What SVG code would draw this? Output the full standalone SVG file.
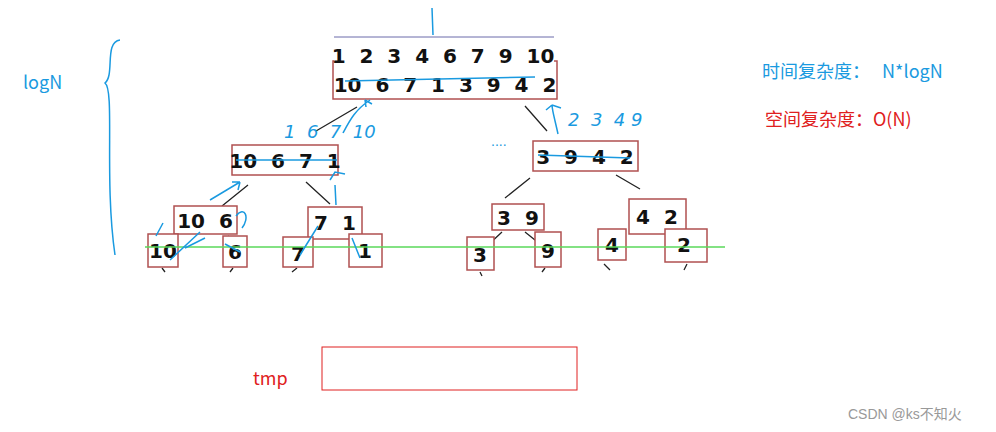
<svg xmlns="http://www.w3.org/2000/svg" width="996" height="432" viewBox="0 0 996 432" xml:space="preserve">
<style>
.b{fill:#fff;stroke:#b05050;stroke-width:1.5}
.n{font-family:"DejaVu Sans",sans-serif;font-weight:bold;font-size:20px;fill:#111;text-anchor:middle;white-space:pre}
.k{stroke:#222;stroke-width:1.3;fill:none}
.u{stroke:#1a9ae0;stroke-width:1.5;fill:none}
.h{font-family:"DejaVu Sans",sans-serif;font-style:italic;font-size:18px;fill:#1a9ae0;white-space:pre}
.t{font-family:"Noto Sans CJK SC","Liberation Sans",sans-serif;font-size:18px;white-space:pre}
</style>
<rect width="996" height="432" fill="#fff"/>
<g id="connectors">
<path class="k" d="M357 107L316 131M525 106L547 131M248 185L222 206M306 182L330 204M530 178L505 198M616 175L640 189M172 236L160 254M228 236L246 252M300 240L290 256M360 240L370 250M502 232L487 246M525 232L545 248M617 235L610 248M686 235L700 248"/>
<path class="k" d="M162 268L165 272M233 268L230 272M297 268L292 272M480 272L482 276M545 268L542 272M604 264L610 270M687 264L684 270"/>
</g>
<g id="top"><rect class="b" x="333" y="61" width="224" height="38"/><text class="n" x="445" y="92" font-size="19">10  6  7  1  3  9  4  2</text>
<rect x="334" y="38" width="220" height="30" fill="#fff"/><text class="n" x="443" y="63">1  2  3  4  6  7  9  10</text>
<line x1="334" y1="37" x2="554" y2="37" stroke="#6a6aaa"/></g>
<g id="n10671"><rect class="b" x="232" y="145" width="106" height="30"/><text class="n" x="285" y="168">10  6  7  1</text></g>
<g id="n3942"><rect class="b" x="533" y="141" width="105" height="30"/><text class="n" x="585" y="164">3  9  4  2</text></g>
<g id="n106"><rect class="b" x="174" y="206" width="63" height="28"/><text class="n" x="205" y="228">10  6</text></g>
<g id="n71"><rect class="b" x="308" y="207" width="54" height="32"/><text class="n" x="335" y="230">7  1</text></g>
<g id="n39"><rect class="b" x="492" y="204" width="52" height="26"/><text class="n" x="518" y="225">3  9</text></g>
<g id="n42"><rect class="b" x="629" y="199" width="57" height="35"/><text class="n" x="657" y="224">4  2</text></g>
<g id="l10"><rect class="b" x="148" y="234" width="30" height="33"/><text class="n" x="163" y="258">10</text></g>
<g id="l6"><rect class="b" x="223" y="236" width="24" height="31"/><text class="n" x="235" y="259">6</text></g>
<g id="l7"><rect class="b" x="283" y="237" width="30" height="30"/><text class="n" x="298" y="261">7</text></g>
<g id="l1"><rect class="b" x="349" y="234" width="33" height="33"/><text class="n" x="365" y="258">1</text></g>
<g id="l3"><rect class="b" x="467" y="237" width="27" height="33"/><text class="n" x="480" y="262">3</text></g>
<g id="l9"><rect class="b" x="535" y="232" width="26" height="35"/><text class="n" x="548" y="258">9</text></g>
<g id="l4"><rect class="b" x="598" y="229" width="28" height="31"/><text class="n" x="612" y="252">4</text></g>
<g id="l2"><rect class="b" x="665" y="229" width="42" height="33"/><text class="n" x="684" y="252">2</text></g>
<line x1="145" y1="247" x2="725" y2="247" stroke="#5ad85a" stroke-width="1.5"/>
<g id="ink">
<path class="u" d="M432 8L433 35M345 81L535 77M236 160L337 160M538 155L630 158M343 133C350 120 355 110 370 100M365 100L372 104M365 100L366 107M210 200L240 182M240 182L232 182M240 182L238 190M330 180L335 172L345 174M336 205L335 185M558 134C555 120 552 110 552 105M552 105L546 110M552 105L561 108M163 223L156 236M205 238L185 248M170 260L200 232M240 252L225 244M242 228C250 218 245 205 236 216M300 255L318 226M360 258L352 238"/>
<path d="M120 40C104 42 115 75 105 83C115 90 104 180 115 255" class="u"/>
<text class="h" x="284" y="138">1  6  7  10</text>
<text class="h" x="568" y="126">2  3  4 9</text>
<text x="491" y="146" fill="#1a9ae0" font-family="Liberation Sans,sans-serif" font-size="14">....</text>
</g>
<text class="t" x="23" y="89" fill="#1a9ae0">logN</text>
<text class="t" x="762" y="78" fill="#1a9ae0">时间复杂度：   N*logN</text>
<text class="t" x="765" y="126" fill="#e02020">空间复杂度：O(N)</text>
<text class="t" x="253" y="385" fill="#e02020">tmp</text>
<rect x="322" y="347" width="255" height="43" fill="none" stroke="#e02020"/>
<text x="848" y="419" fill="#999" font-family="Liberation Sans,'Noto Sans CJK SC',sans-serif" font-size="14">CSDN @ks不知火</text>
</svg>
